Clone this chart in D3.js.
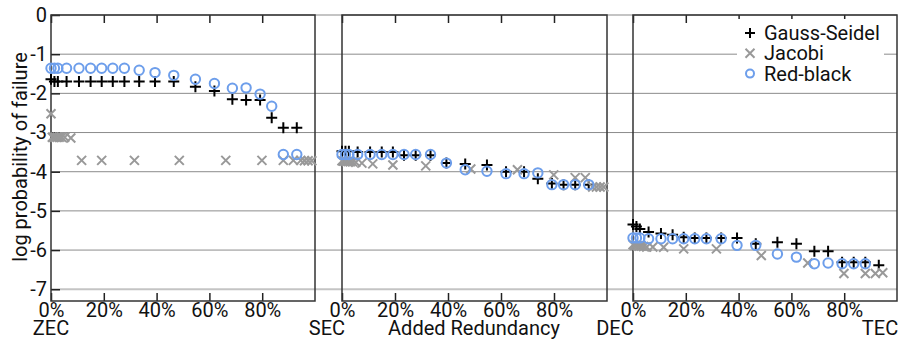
<!DOCTYPE html>
<html>
<head>
<meta charset="utf-8">
<script src="https://cdn.jsdelivr.net/npm/d3@7"></script>
<style>
  html, body { margin: 0; padding: 0; background: #fff; }
  svg { display: block; font-family: Roboto, "Noto Sans", sans-serif; }
</style>
</head>
<body>
<svg id="chart" width="899" height="340"></svg>
<script>
// Redundancy levels and encoding scheme names
const panelNames = ["ZEC", "SEC", "DEC", "TEC"];
const seriesNames = ["Gauss-Seidel", "Jacobi", "Red-black"];
const xTicks = [0, 20, 40, 60, 80];
const yTicks = [0, -1, -2, -3, -4, -5, -6, -7];

// Added redundancy (%) for Gauss-Seidel and Red-black runs
const gsRbX = [0, 1.3, 2.6, 5.9, 10.6, 15.0, 19.2, 23.4, 27.8, 33.4, 39.4, 46.5, 54.7, 61.9, 68.7, 73.9, 79.2, 83.6, 88.0, 93.1];
// Added redundancy (%) for Jacobi runs
const jacobiX = [0, 0.5, 1.0, 1.6, 2.3, 3.1, 4.0, 5.2, 7.5, 11.6, 19.2, 31.6, 48.6, 66.2, 79.9, 88.0, 91.8, 94.6, 96.0, 97.4, 98.8];

// log10 probability of failure, one array per panel (ZEC→SEC, SEC→DEC, DEC→TEC)
const gaussSeidel1 = [-1.64, -1.70, -1.70, -1.70, -1.70, -1.70, -1.70, -1.70, -1.70, -1.70, -1.70, -1.70, -1.83, -1.94, -2.15, -2.17, -2.17, -2.62, -2.88, -2.88];
const gaussSeidel2 = [-3.48, -3.48, -3.48, -3.50, -3.50, -3.50, -3.50, -3.58, -3.58, -3.58, -3.78, -3.80, -3.83, -4.00, -4.00, -4.18, -4.30, -4.33, -4.33, -4.33];
const gaussSeidel3 = [-5.35, -5.40, -5.46, -5.54, -5.58, -5.61, -5.67, -5.69, -5.69, -5.69, -5.69, -5.84, -5.80, -5.84, -6.03, -6.03, -6.31, -6.31, -6.31, -6.39];

const jacobi1 = [-2.52, -3.12, -3.12, -3.12, -3.12, -3.12, -3.12, -3.12, -3.14, -3.71, -3.71, -3.71, -3.71, -3.71, -3.71, -3.71, -3.71, -3.71, -3.72, -3.72, -3.72];
const jacobi2 = [-3.72, -3.73, -3.73, -3.74, -3.74, -3.75, -3.75, -3.76, -3.78, -3.80, -3.83, -3.85, -3.93, -3.95, -4.08, -4.15, -4.15, -4.39, -4.39, -4.39, -4.39];
const jacobi3 = [-5.86, -5.88, -5.88, -5.89, -5.90, -5.90, -5.91, -5.92, -5.92, -5.93, -5.97, -5.97, -6.14, -6.33, -6.60, -6.60, -6.60, -6.58, null, null, null];

const redBlack1 = [-1.36, -1.36, -1.36, -1.36, -1.36, -1.36, -1.36, -1.36, -1.36, -1.41, -1.47, -1.54, -1.64, -1.75, -1.87, -1.86, -2.02, -2.33, -3.56, -3.56];
const redBlack2 = [-3.56, -3.56, -3.56, -3.56, -3.56, -3.56, -3.56, -3.56, -3.56, -3.56, -3.78, -3.95, -3.99, -4.05, -4.05, -4.03, -4.33, -4.33, -4.33, -4.33];
const redBlack3 = [-5.69, -5.69, -5.69, -5.71, -5.71, -5.71, -5.71, -5.71, -5.71, -5.71, -5.88, -5.88, -6.10, -6.18, -6.35, -6.33, -6.35, -6.35, -6.35, null];

const panels = [
  { gs: gaussSeidel1, jac: jacobi1, rb: redBlack1 },
  { gs: gaussSeidel2, jac: jacobi2, rb: redBlack2 },
  { gs: gaussSeidel3, jac: jacobi3, rb: redBlack3 }
];

const colors = { gs: "#000000", jac: "#999999", rb: "#6d9eeb" };
const fontSize = 20;

const svg = d3.select("#chart");
const panelRanges = [[51, 315], [342, 607], [633, 897]];
const plotTop = 15, plotBottom = 301;

const y = d3.scaleLinear().domain([-7.3, 0]).range([plotBottom, plotTop]);

// Horizontal grid spanning all three panels
svg.append("g").selectAll("line")
  .data(yTicks)
  .join("line")
  .attr("x1", panelRanges[0][0]).attr("x2", panelRanges[2][1])
  .attr("y1", d => y(d)).attr("y2", d => y(d))
  .attr("stroke", d => (d === 0 || d === -7) ? "#c4c4c4" : "#8c8c8c")
  .attr("stroke-width", d => (d === 0 || d === -7) ? 2 : 1);

// Marker shapes
const plusPath = r => `M${-r},0H${r}M0,${-r}V${r}`;
const crossPath = r => `M${-r},${-r}L${r},${r}M${-r},${r}L${r},${-r}`;

panels.forEach((p, i) => {
  const [x0, x1] = panelRanges[i];
  const x = d3.scaleLinear().domain([0, 100]).range([x0, x1]);
  const g = svg.append("g");

  // Inner ticks and labels along the bottom
  const xb = g.append("g")
    .attr("transform", `translate(0,${plotBottom})`)
    .call(d3.axisBottom(x).tickValues(xTicks).tickFormat(d => d + "%").tickSize(-8).tickPadding(2));
  xb.select(".domain").remove();
  xb.selectAll("line").attr("stroke", "#222").attr("stroke-width", 1.5);
  xb.selectAll("text").attr("font-size", fontSize).attr("fill", "#111").attr("font-family", "Roboto");

  // Inner ticks along the top
  const xt = g.append("g")
    .attr("transform", `translate(0,${plotTop})`)
    .call(d3.axisTop(x).tickValues(xTicks).tickFormat("").tickSize(-8));
  xt.select(".domain").remove();
  xt.selectAll("line").attr("stroke", "#222").attr("stroke-width", 1.5);

  if (i === 0) {
    const ya = g.append("g")
      .attr("transform", `translate(${x0},0)`)
      .call(d3.axisLeft(y).tickValues(yTicks).tickFormat(d => d === 0 ? "0" : "-" + Math.abs(d)).tickSize(-9).tickPadding(4));
    ya.select(".domain").remove();
    ya.selectAll("line").attr("stroke", "#222").attr("stroke-width", 1.5);
    ya.selectAll("text").attr("font-size", fontSize).attr("fill", "#111").attr("font-family", "Roboto");
  }

  // Panel frame
  g.append("rect")
    .attr("x", x0).attr("y", plotTop)
    .attr("width", x1 - x0).attr("height", plotBottom - plotTop)
    .attr("fill", "none").attr("stroke", "#333").attr("stroke-width", 1.5);

  // Gauss-Seidel (+)
  g.append("g").selectAll("path")
    .data(gsRbX.map((v, k) => [v, p.gs[k]]).filter(d => d[1] != null))
    .join("path")
    .attr("transform", d => `translate(${x(d[0])},${y(d[1])})`)
    .attr("d", plusPath(5.5))
    .attr("stroke", colors.gs).attr("stroke-width", 2).attr("fill", "none");

  // Jacobi (x)
  g.append("g").selectAll("path")
    .data(jacobiX.map((v, k) => [v, p.jac[k]]).filter(d => d[1] != null))
    .join("path")
    .attr("transform", d => `translate(${x(d[0])},${y(d[1])})`)
    .attr("d", crossPath(4.5))
    .attr("stroke", colors.jac).attr("stroke-width", 2).attr("fill", "none");

  // Red-black (o)
  g.append("g").selectAll("circle")
    .data(gsRbX.map((v, k) => [v, p.rb[k]]).filter(d => d[1] != null))
    .join("circle")
    .attr("cx", d => x(d[0])).attr("cy", d => y(d[1]))
    .attr("r", 4.7)
    .attr("stroke", colors.rb).attr("stroke-width", 2).attr("fill", "none");
});

// Scheme names at panel boundaries
const schemePos = [51, 327, 615, 880];
svg.append("g").selectAll("text")
  .data(panelNames)
  .join("text")
  .attr("x", (d, k) => schemePos[k]).attr("y", 335)
  .attr("text-anchor", "middle")
  .attr("font-size", fontSize).attr("fill", "#111")
  .text(d => d);

svg.append("text")
  .attr("x", 474).attr("y", 335)
  .attr("text-anchor", "middle")
  .attr("font-size", fontSize).attr("fill", "#111")
  .text("Added Redundancy");

svg.append("text")
  .attr("transform", "translate(27,157) rotate(-90)")
  .attr("text-anchor", "middle")
  .attr("font-size", fontSize).attr("fill", "#111")
  .text("log probability of failure");

// Legend
const legend = svg.append("g");
legend.append("rect")
  .attr("x", 737).attr("y", 19).attr("width", 147).attr("height", 66)
  .attr("fill", "#fff");
const legendItems = [
  { key: "gs", label: seriesNames[0] },
  { key: "jac", label: seriesNames[1] },
  { key: "rb", label: seriesNames[2] }
];
legendItems.forEach((it, k) => {
  const cy = 33 + k * 20.3;
  if (it.key === "gs") {
    legend.append("path").attr("transform", `translate(750,${cy})`).attr("d", plusPath(5))
      .attr("stroke", colors.gs).attr("stroke-width", 2);
  } else if (it.key === "jac") {
    legend.append("path").attr("transform", `translate(750,${cy})`).attr("d", crossPath(4.5))
      .attr("stroke", colors.jac).attr("stroke-width", 2);
  } else {
    legend.append("circle").attr("cx", 750).attr("cy", cy).attr("r", 4)
      .attr("stroke", colors.rb).attr("stroke-width", 2).attr("fill", "none");
  }
  legend.append("text")
    .attr("x", 764).attr("y", cy).attr("dy", "0.35em")
    .attr("font-size", fontSize).attr("fill", "#111")
    .text(it.label);
});
</script>
</body>
</html>
